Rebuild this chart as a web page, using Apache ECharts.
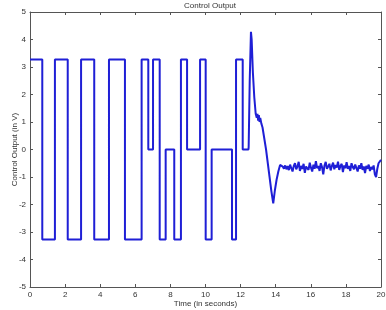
<!DOCTYPE html>
<html>
<head>
<meta charset="utf-8">
<script src="https://cdn.jsdelivr.net/npm/echarts@6/dist/echarts.min.js"></script>
<style>
  html, body { margin: 0; padding: 0; background: #fff; }
  #chart { width: 386px; height: 310px; }
</style>
</head>
<body>
<div id="chart"></div>
<script>
/* ── Data ─────────────────────────────────────────────────────────── */
// square-wave part: switch times (s) and the level held from each one
const switchTimes = [0, 0.70, 1.42, 2.15, 2.91, 3.66, 4.50, 5.41, 6.36, 6.74, 7.01, 7.39, 7.73,
    8.22, 8.60, 8.95, 9.69, 10.01, 10.35, 11.51, 11.74, 12.12];
const switchLevels = [3.27, -3.27, 3.27, -3.27, 3.27, -3.27, 3.27, -3.27, 3.27, 0, 3.27, -3.27, 0,
    -3.27, 3.27, 0, 3.27, -3.27, 0, -3.27, 3.27, 0];
const squareEnd = 12.45;

// transient after the square wave
const transientTimes = [12.46, 12.52, 12.59, 12.63, 12.70, 12.78, 12.86, 12.92, 12.96, 13.00, 13.04,
    13.08, 13.12, 13.18, 13.25, 13.35, 13.45, 13.55, 13.65, 13.75, 13.86, 13.95, 14.05, 14.15,
    14.25, 14.30, 14.35];
const transientValues = [0.1, 2.5, 4.28, 4.0, 2.8, 1.9, 1.3, 1.15, 1.3, 1.05, 1.25,
    1.0, 1.15, 0.95, 0.8, 0.4, 0.0, -0.5, -1.0, -1.5, -1.96, -1.5, -1.1, -0.8,
    -0.56, -0.6, -0.5];

// noisy steady state, sampled every noiseStep seconds from noiseStart
const noiseStart = 14.4;
const noiseStep = 0.07;
const noiseValues = [
    -0.62, -0.7, -0.58, -0.72, -0.6, -0.75, -0.55, -0.68, -0.8, -0.6,
    -0.5, -0.72, -0.62, -0.45, -0.78, -0.6, -0.7, -0.52, -0.85, -0.62,
    -0.58, -0.74, -0.48, -0.66, -0.8, -0.55, -0.7, -0.42, -0.68, -0.6,
    -0.78, -0.5, -0.64, -0.9, -0.58, -0.45, -0.7, -0.62, -0.52, -0.76,
    -0.6, -0.48, -0.72, -0.56, -0.66, -0.44, -0.74, -0.6, -0.52, -0.82,
    -0.58, -0.68, -0.46, -0.7, -0.6, -0.78, -0.5, -0.64, -0.72, -0.55,
    -0.62, -0.8, -0.58, -0.7, -0.5, -0.74, -0.62, -0.86, -0.6, -0.7,
    -0.55, -0.78, -0.64, -0.72, -0.58, -0.9, -1.0, -0.7, -0.5, -0.45, -0.38
];

const xTicks = { min: 0, max: 20, interval: 2 };
const yTicks = { min: -5, max: 5, interval: 1 };

/* ── Build series points ─────────────────────────────────────────── */
const points = [];
switchTimes.forEach((t, i) => {
    const tEnd = i + 1 < switchTimes.length ? switchTimes[i + 1] : squareEnd;
    points.push([t, switchLevels[i]], [tEnd, switchLevels[i]]);
});
transientTimes.forEach((t, i) => points.push([t, transientValues[i]]));
noiseValues.forEach((v, i) => points.push([+(noiseStart + i * noiseStep).toFixed(3), v]));

/* ── Chart ────────────────────────────────────────────────────────── */
const FONT = '"Liberation Sans", Arial, sans-serif';
const AXIS_COLOR = '#555';
const TEXT_COLOR = '#333';

const chart = echarts.init(document.getElementById('chart'), null, { renderer: 'canvas' });

const boxAxis = {
    axisLine: { show: true, onZero: false, lineStyle: { color: AXIS_COLOR, width: 1 } },
    axisTick: { show: true, inside: true, length: 3, lineStyle: { color: AXIS_COLOR } },
    splitLine: { show: false }
};

chart.setOption({
    backgroundColor: '#fff',
    animation: false,
    title: {
        text: 'Control Output',
        left: 205, top: -3,
        textAlign: 'center',
        textStyle: { fontFamily: FONT, fontSize: 8, fontWeight: 'normal', color: TEXT_COLOR }
    },
    grid: { left: 30, right: 5, top: 12, bottom: 23, containLabel: false, outerBoundsMode: 'none' },
    xAxis: [
        Object.assign({
            type: 'value', position: 'bottom', ...xTicks,
            name: 'Time (in seconds)', nameLocation: 'middle', nameGap: 13, nameMoveOverlap: false,
            nameTextStyle: { fontFamily: FONT, fontSize: 8, color: TEXT_COLOR },
            axisLabel: { fontFamily: FONT, fontSize: 8, color: TEXT_COLOR, margin: 4 }
        }, boxAxis),
        Object.assign({
            type: 'value', position: 'top', ...xTicks,
            axisLabel: { show: false }
        }, boxAxis)
    ],
    yAxis: [
        Object.assign({
            type: 'value', position: 'left', ...yTicks,
            name: 'Control Output (in V)', nameLocation: 'middle', nameGap: 11, nameMoveOverlap: false,
            nameTextStyle: { fontFamily: FONT, fontSize: 8, color: TEXT_COLOR },
            axisLabel: { fontFamily: FONT, fontSize: 8, color: TEXT_COLOR, margin: 4 }
        }, boxAxis),
        Object.assign({
            type: 'value', position: 'right', ...yTicks,
            axisLabel: { show: false }
        }, boxAxis)
    ],
    series: [{
        type: 'line',
        xAxisIndex: 0,
        yAxisIndex: 0,
        data: points,
        showSymbol: false,
        lineStyle: { color: '#1f1fd6', width: 2 }
    }]
});
</script>
</body>
</html>
